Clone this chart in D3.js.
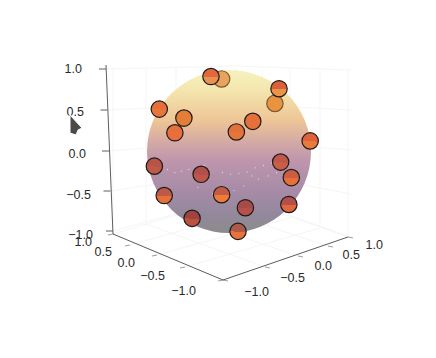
<!DOCTYPE html>
<html><head><meta charset="utf-8">
<script src="https://cdn.jsdelivr.net/npm/d3@7"></script>
<style>html,body{margin:0;background:#fff}svg{display:block}text{font-family:"Liberation Sans",Arial,sans-serif;font-size:12.5px;fill:#2a2a2a}</style>
</head><body><div id="c"></div>
<script>
// ---- data ----
const tickValues = [1, 0.5, 0, -0.5, -1];
const tickLabels = ["1.0", "0.5", "0.0", "\u22120.5", "\u22121.0"];
// front-of-sphere marker positions, as seen projected (unit sphere, u right, v up)
const markerU = [-0.22, -0.09, 0.61, 0.56, -0.85, -0.55, -0.66, 0.09, 0.29, 0.99, 0.63, 0.76, -0.91, -0.34, -0.79, -0.09, 0.73, 0.20, -0.45, 0.11];
const markerV = [0.92, 0.89, 0.77, 0.59, 0.52, 0.41, 0.23, 0.24, 0.37, 0.13, -0.13, -0.32, -0.18, -0.28, -0.54, -0.53, -0.65, -0.69, -0.82, -0.98];
const markerTop = ["#e2673d","#e8a35e","#dd5f3a","#e9923f","#e66f39","#e47d38","#e86f3c","#e2703c","#e6703a","#de633c","#bf5846","#cb5d42","#b85347","#b24f4b","#bd5947","#c35b45","#b3504a","#a84a48","#a0433f","#ad5a48"];
const markerBottom = ["#e9924f","#e8a35e","#e8944a","#e9923f","#e8763a","#e47d38","#e86f3c","#e6753c","#e6703a","#ea7a3c","#c85e48","#e87038","#bf5a46","#bd574a","#e8703a","#ee7b38","#e0683c","#b5504a","#bb5240","#e8723a"];
const markerBehind = [false,true,false,true,false,false,false,false,false,false,false,false,false,false,false,false,false,false,false,false];
const gradientStop = [0, 0.12, 0.31, 0.43, 0.55, 0.74, 0.89, 1];
const gradientColor = ["#f6f2bd","#f4e6ae","#eec596","#d6aca4","#bf96ad","#a78ba7","#93889b","#8b8b8b"];
const speckU = [-0.95,-0.85,-0.75,-0.66,-0.58,-0.49,-0.40,-0.30,-0.08,0.02,0.12,0.22,0.32,0.42,0.52,0.28,0.36,0.18,0.06,-0.38,-0.2,-0.12,0.48,0.58];
const speckV = [-0.12,-0.2,-0.22,-0.26,-0.24,-0.22,-0.2,-0.17,-0.26,-0.28,-0.27,-0.25,-0.2,-0.17,-0.14,-0.3,-0.34,-0.42,-0.48,-0.44,-0.52,-0.56,-0.3,-0.26];

// ---- layout ----
const W = 436, H = 358;
const svg = d3.select("#c").append("svg").attr("width", W).attr("height", H);
const sx = d3.scaleLinear().domain([-1, 1]).range([147, 311]);
const sy = d3.scaleLinear().domain([-1, 1]).range([233, 70]);
const piece = r => d3.scaleLinear().domain(tickValues).range(r);

// corners and edges
const leftX  = piece([113, 130, 157, 185, 223]), leftY  = piece([234, 245, 255, 267, 280]);
const rightX = piece([348, 328, 298, 265, 223]), rightY = piece([237, 246, 256, 267, 280]);
const backLX = piece([236, 206, 176, 146, 113]), backLY = piece([197, 206, 215, 224, 234]);
const backRX = piece([348, 320, 290, 262, 236]), backRY = piece([237, 228, 218, 208, 197]);
const zX = piece([106, 107.5, 109, 110.5, 113]), zY = piece([69, 110, 151, 191, 231]);
const backZ = piece([66, 104, 141, 172, 197]);
const rightZ = piece([70, 110, 150, 194, 237]);

const grid = svg.append("g").attr("stroke", "#f5f5f5").attr("stroke-width", 1).attr("fill", "none");
const L = (a, b, c, d) => grid.append("line").attr("x1", a).attr("y1", b).attr("x2", c).attr("y2", d);
tickValues.forEach(t => {
  L(leftX(t), leftY(t), backRX(-t) , backRY(-t));
  L(rightX(t), rightY(t), backLX(t), backLY(t));
  L(zX(t), zY(t), 236, backZ(t));
  L(236, backZ(t), 351, rightZ(t));
  const bl = backLX(t), br = backRX(t);
  L(bl, backLY(t), bl, 68);
  L(br, backRY(t), br, 70);
});

// sphere
const defs = svg.append("defs");
const lg = defs.append("linearGradient").attr("id", "sphereFill").attr("x1", 0).attr("x2", 0).attr("y1", 0).attr("y2", 1);
gradientStop.forEach((s, i) => lg.append("stop").attr("offset", s).attr("stop-color", gradientColor[i]));
svg.append("ellipse")
  .attr("cx", sx(0)).attr("cy", sy(0))
  .attr("rx", (sx(1) - sx(-1)) / 2).attr("ry", (sy(-1) - sy(1)) / 2)
  .attr("fill", "url(#sphereFill)");

// specks
svg.append("g").selectAll("circle").data(speckU).join("circle")
  .attr("cx", d => sx(d)).attr("cy", (d, i) => sy(speckV[i]))
  .attr("r", 0.6).attr("fill", "#fff").attr("opacity", 0.7);

// axes
const axes = svg.append("g").attr("stroke", "#5e5e5e").attr("fill", "none");
axes.append("line").attr("x1", 106).attr("y1", 65).attr("x2", 113).attr("y2", 234);
axes.append("line").attr("x1", leftX(1)).attr("y1", leftY(1)).attr("x2", leftX(-1)).attr("y2", leftY(-1));
axes.append("line").attr("x1", rightX(-1)).attr("y1", rightY(-1)).attr("x2", rightX(1)).attr("y2", rightY(1));
tickValues.forEach(t => {
  axes.append("line").attr("x1", zX(t) - 7).attr("y1", zY(t)).attr("x2", zX(t)).attr("y2", zY(t));
  axes.append("line").attr("x1", leftX(t) - 5).attr("y1", leftY(t) + 1).attr("x2", leftX(t)).attr("y2", leftY(t)).attr("stroke-opacity", 0.6);
  axes.append("line").attr("x1", rightX(t) + 5).attr("y1", rightY(t) + 1).attr("x2", rightX(t)).attr("y2", rightY(t)).attr("stroke-opacity", 0.6);
});

// labels
const zLabX = piece([82, 84, 86, 91, 93]), zLabY = piece([73, 116, 158, 199, 239]);
const lLabX = piece([92, 112, 135, 165, 196]), lLabY = piece([246, 256, 267, 280, 295]);
const rLabX = piece([383, 360, 332, 305, 269]), rLabY = piece([249, 259, 270, 282, 296]);
const labels = svg.append("g");
tickValues.forEach((t, i) => {
  [[zLabX, zLabY], [lLabX, lLabY], [rLabX, rLabY]].forEach(([fx, fy]) =>
    labels.append("text").attr("x", fx(t)).attr("y", fy(t)).attr("text-anchor", "end").text(tickLabels[i]));
});

// markers
const order = d3.range(markerU.length).sort((a, b) => (markerBehind[b] ? 1 : 0) - (markerBehind[a] ? 1 : 0));
order.forEach(i => {
  const g = defs.append("linearGradient").attr("id", "m" + i).attr("x1", 0.1).attr("x2", 0.05).attr("y1", 0).attr("y2", 1);
  g.append("stop").attr("offset", 0.5).attr("stop-color", markerTop[i]);
  g.append("stop").attr("offset", 0.5).attr("stop-color", markerBottom[i]);
});
svg.append("g").selectAll("circle").data(order).join("circle")
  .attr("cx", i => sx(markerU[i])).attr("cy", i => sy(markerV[i]))
  .attr("r", 8.2)
  .attr("fill", i => `url(#m${i})`)
  .attr("stroke", i => markerBehind[i] ? "#7d5a30" : "#1d1a1a")
  .attr("stroke-width", 1.2);

// pointer
svg.append("path")
  .attr("d", d3.line()([[70, 115], [82, 128], [78, 130], [76, 135], [70, 133]]) + "Z")
  .attr("fill", "#4a4a4a").attr("stroke", "#fff").attr("stroke-width", 1).attr("stroke-linejoin", "round");
</script></body></html>
